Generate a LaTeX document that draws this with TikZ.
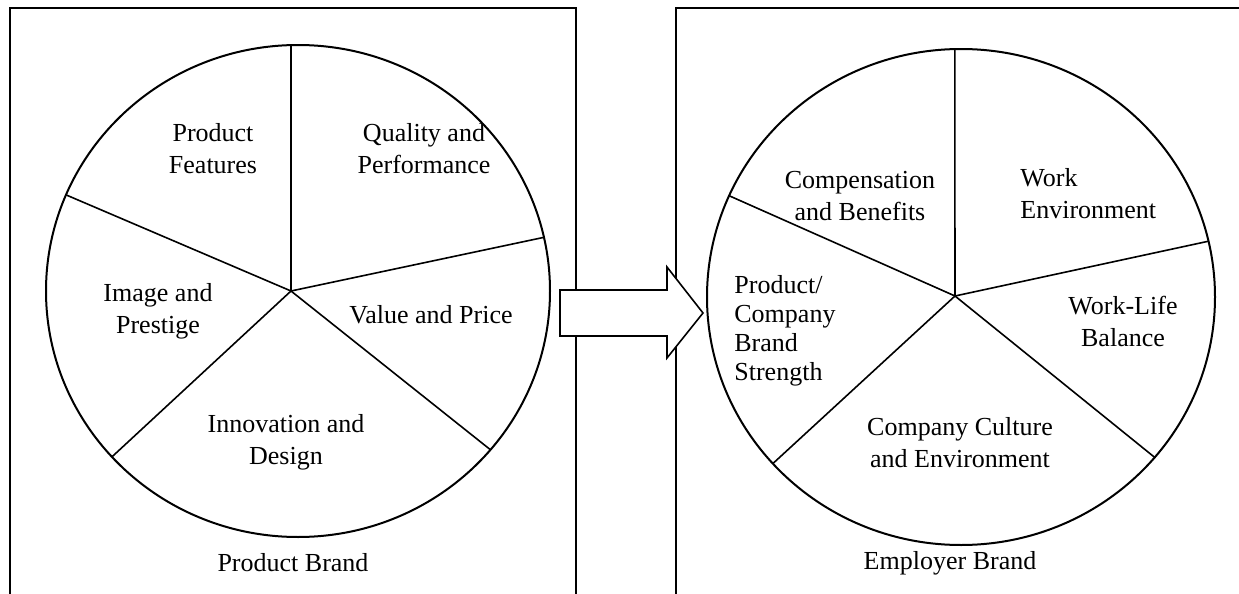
\documentclass[tikz,border=0pt]{standalone}
\usepackage{fontspec}
\setmainfont{Liberation Serif}
\usetikzlibrary{calc}
\begin{document}
\begin{tikzpicture}[x=0.5pt,y=-0.5pt,
  frame/.style={line width=1.1pt},
  pie/.style={line width=1pt},
  spoke/.style={line width=0.8pt},
  lbl/.style={font=\fontsize{13}{16}\selectfont, align=center, inner sep=0pt},
  lbll/.style={font=\fontsize{13}{16}\selectfont, align=left, inner sep=0pt, anchor=west},
  bigarrow/.style={line width=0.8pt, fill=white}]
\useasboundingbox (0,0) rectangle (1239,594);
% frames
\coordinate (lb1) at (10,650); \coordinate (lt1) at (10,8);
\coordinate (lt2) at (576,8); \coordinate (lb2) at (576,650);
\draw[frame] (lb1) -- (lt1) -- (lt2) -- (lb2);
\coordinate (rb1) at (676,650); \coordinate (rt1) at (676,8);
\coordinate (rt2) at (1260,8);
\draw[frame] (rb1) -- (rt1) -- (rt2);
% left pie
\coordinate (cL) at (298,291);
\coordinate (hubL) at (291,291);
\draw[pie] (cL) ellipse[x radius=126pt, y radius=123pt];
\foreach \a in {91.6,157,222.4,-40.2,12.6}
  \draw[spoke] (hubL) -- ($(cL)+({252*cos(\a)},{-246*sin(\a)})$);
% right pie
\coordinate (cR) at (961,297);
\coordinate (hubR) at (955,296);
\draw[pie] (cR) ellipse[x radius=127pt, y radius=124pt];
\foreach \a in {91.4,155.9,222.2,13,-40.3}
  \draw[spoke] (hubR) -- ($(cR)+({254*cos(\a)},{-248*sin(\a)})$);
% arrow
\coordinate (a1) at (560,290); \coordinate (a2) at (667,290);
\coordinate (a3) at (667,267); \coordinate (a4) at (703,313);
\coordinate (a5) at (667,358); \coordinate (a6) at (667,336);
\coordinate (a7) at (560,336);
\draw[bigarrow] (a1) -- (a2) -- (a3) -- (a4) -- (a5) -- (a6) -- (a7) -- cycle;
% left labels
\node[lbl] (pf) at (213,149) {Product\\Features};
\node[lbl] (qp) at (424,149) {Quality and\\Performance};
\node[lbl] (ip) at (158,311) {Image and\\Prestige};
\node[lbl] (vp) at (431,315) {Value and Price};
\node[lbl] (id) at (286,442) {Innovation and\\Design};
\node[lbl] (pb) at (293,563) {Product Brand};
% right labels
\node[lbl] (cb) at (860,196) {Compensation\\and Benefits};
\node[lbll] (we) at (1020,194) {Work\\Environment};
\node[lbll, font=\fontsize{13}{14.5}\selectfont] (pc) at (734,331) {Product/\\Company\\Brand\\Strength};
\node[lbl] (wl) at (1123,321) {Work-Life\\Balance};
\node[lbl] (cc) at (960,443) {Company Culture\\and Environment};
\node[lbl] (eb) at (950,563) {Employer Brand};
\end{tikzpicture}
\end{document}
